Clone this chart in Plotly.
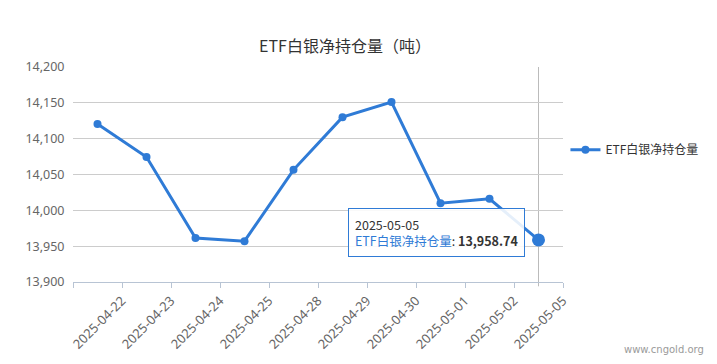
import plotly.graph_objects as go

dates = ["2025-04-22", "2025-04-23", "2025-04-24", "2025-04-25", "2025-04-28",
         "2025-04-29", "2025-04-30", "2025-05-01", "2025-05-02", "2025-05-05"]
values = [14120.5, 14074.4, 13961.4, 13957.0, 14056.5,
          14130.0, 14151.0, 14010.0, 14016.0, 13958.74]
series_name = "ETF白银净持仓量"
title = "ETF白银净持仓量（吨）"

LINE = "#2f7bd6"
FONT = "Noto Sans CJK SC, Noto Sans, sans-serif"

idx = list(range(len(dates)))
last = len(dates) - 1

fig = go.Figure()
fig.add_trace(go.Scatter(
    x=idx, y=values, mode="lines+markers", name=series_name,
    line=dict(color=LINE, width=3),
    marker=dict(color=LINE, size=8),
    hoverinfo="skip",
))
# highlighted last point
fig.add_trace(go.Scatter(
    x=[idx[last]], y=[values[last]], mode="markers", showlegend=False,
    marker=dict(color=LINE, size=13), hoverinfo="skip",
))

# axis pointer line
fig.add_shape(type="line", xref="x", yref="paper", x0=idx[last], x1=idx[last],
              y0=-0.02, y1=1, line=dict(color="#bbbbbb", width=1), layer="below")

# tooltip
fig.add_annotation(
    x=idx[last], y=values[last], xref="x", yref="y",
    xanchor="right", yanchor="middle", xshift=-14, yshift=7,
    showarrow=False, align="left",
    text=(f"{dates[last]}<br><span style='color:{LINE}'>{series_name}</span>"
          f"<span style='color:#333'>: </span><b>{values[last]:,.2f}</b>"),
    font=dict(family=FONT, size=12.5, color="#333333"),
    bgcolor="rgba(255,255,255,0.88)", bordercolor=LINE, borderwidth=1, borderpad=6,
)

# watermark
fig.add_annotation(
    x=1, y=0, xref="paper", yref="paper", xanchor="right", yanchor="bottom",
    text="www.cngold.org", showarrow=False, xshift=143, yshift=-75,
    font=dict(family="DejaVu Sans, sans-serif", size=10, color="#9a9a9a"),
)

fig.update_layout(
    width=717, height=364,
    margin=dict(l=73, r=154, t=67, b=82),
    paper_bgcolor="white", plot_bgcolor="white",
    title=dict(text=title, x=345 / 717, xanchor="center", y=1 - 46 / 364, yanchor="middle",
               font=dict(family=FONT, size=16, color="#333333")),
    font=dict(family=FONT, size=12, color="#666666"),
    showlegend=True,
    legend=dict(x=1.005, y=0.615, xanchor="left", yanchor="middle",
                font=dict(family=FONT, size=12, color="#333333"),
                bgcolor="rgba(0,0,0,0)"),
    xaxis=dict(
        range=[-0.5, len(dates) - 0.5],
        tickmode="array",
        tickvals=[i - 0.5 for i in range(len(dates) + 1)],
        ticktext=[""] + dates,
        tickangle=-45,
        ticks="outside", ticklen=5, tickcolor="#b8c4d4",
        showline=True, linecolor="#b8c4d4", linewidth=1,
        showgrid=False, zeroline=False,
        tickfont=dict(family="Noto Sans, sans-serif", size=13, color="#666666"),
    ),
    yaxis=dict(
        range=[13900, 14200], dtick=50, tickformat=",",
        showgrid=True, gridcolor="#cccccc", gridwidth=1,
        zeroline=False, showline=False, ticks="outside", ticklen=5, tickcolor="rgba(0,0,0,0)",
        tickfont=dict(family="Noto Sans, sans-serif", size=12.5, color="#666666"),
    ),
)

fig.write_html("out.html", config={"displayModeBar": False},
               post_script="document.body.style.margin='0';document.body.style.overflow='hidden';")
